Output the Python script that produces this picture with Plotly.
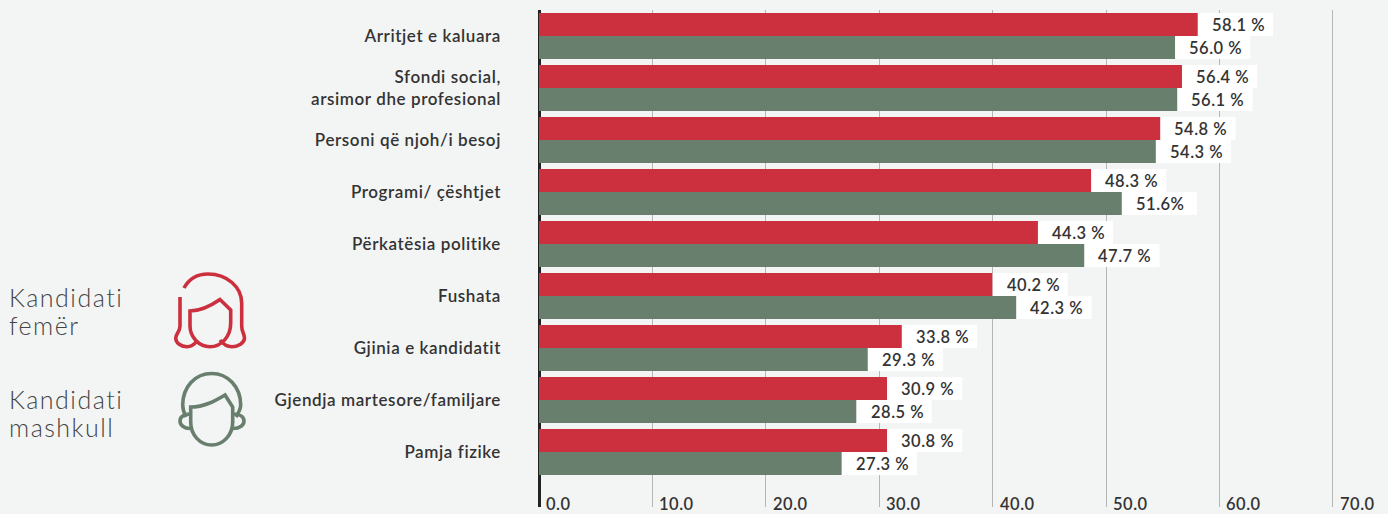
import plotly.graph_objects as go

categories = ["Arritjet e kaluara", "Sfondi social,<br>arsimor dhe profesional", "Personi që njoh/i besoj",
              "Programi/ çështjet", "Përkatësia politike", "Fushata", "Gjinia e kandidatit",
              "Gjendja martesore/familjare", "Pamja fizike"]
female_bars = [58.1, 56.7, 54.8, 48.7, 44.0, 40.0, 32.0, 30.7, 30.7]
male_bars = [56.1, 56.3, 54.4, 51.4, 48.1, 42.1, 29.0, 28.0, 26.7]
female_labels = ["58.1 %", "56.4 %", "54.8 %", "48.3 %", "44.3 %", "40.2 %", "33.8 %", "30.9 %", "30.8 %"]
male_labels = ["56.0 %", "56.1 %", "54.3 %", "51.6%", "47.7 %", "42.3 %", "29.3 %", "28.5 %", "27.3 %"]
tick_values = [0, 10, 20, 30, 40, 50, 60, 70]
tick_labels = ["0.0", "10.0", "20.0", "30.0", "40.0", "50.0", "60.0", "70.0"]
LABEL_BOX = 6.62

RED, GREEN, BG, INK = "#CC303E", "#697F6E", "#F3F5F4", "#333333"
W, H = 1388, 514
BAR = 23 / 52

fig = go.Figure()
for vals, offset, color in [(female_bars, -BAR, RED), (male_bars, 0, GREEN)]:
    fig.add_bar(y=categories, x=vals, base=0, orientation="h", width=BAR, offset=offset,
                marker=dict(color=color, line_width=0), hoverinfo="skip")
    fig.add_bar(y=categories, x=[LABEL_BOX] * len(vals), base=vals, orientation="h", width=BAR, offset=offset,
                marker=dict(color="white", line_width=0), hoverinfo="skip")

annotations = []
for vals, labels, yshift in [(female_bars, female_labels, 10.5), (male_bars, male_labels, -12.5)]:
    for cat, v, t in zip(categories, vals, labels):
        annotations.append(dict(x=v, y=cat, xref="x", yref="y", text=t, showarrow=False, xanchor="left", align="left",
                                xshift=12, yshift=yshift, font=dict(family="Lato", size=16.5, color=INK, weight=600)))
for v, t in zip(tick_values, tick_labels):
    annotations.append(dict(x=v, y=504, xref="x", yref="y2", text=t, showarrow=False, xanchor="left", align="left",
                            xshift=5, font=dict(family="Lato", size=16.5, color=INK, weight=600)))
for txt, y in [("Kandidati", 296.5), ("femër", 325), ("Kandidati", 398.5), ("mashkull", 427)]:
    annotations.append(dict(x=7, y=y, xref="x2", yref="y2", text=txt, showarrow=False, xanchor="left", align="left",
                            font=dict(family="Lato", size=25, color="#444444", weight=300)))

icons = [
    (RED, "M184,288 C189,279 198,274 208,274 C227,274 241.7,287 241.7,303 L241.7,326 C241.7,332 244.5,334 244.5,338 C244.5,343 238,346.7 232,346.7 C227,346.7 223,344 220,340"),
    (RED, "M180,297 L180,326 C180,332 175.7,334 175.7,338 C175.7,343 181,346.7 187,346.7 C191,346.7 194,345 197,341"),
    (RED, "M190,311 C202,311 212,305 220,299.5 L230.7,310 L230.7,323 C230.7,337 221,346.7 210,346.7 C199,346.7 190,337 190,326 Z"),
    (GREEN, "M186,417 C183.5,412 182.7,409 182.7,405 C182.7,387 195,373.5 211.7,373.5 C228,373.5 240.7,387 240.7,405 C240.7,409 239,412 236,417"),
    (GREEN, "M190.7,407 C204,407 215,401 225,395 L232.7,407 L232.7,422 C232.7,435 223,445 211.7,445 C200,445 190.7,435 190.7,422 Z"),
    (GREEN, "M190,414 C184,414 180,417 180,421 C180,425 184,428.5 190,428.5"),
    (GREEN, "M233,414 C240,414 244,417 244,421 C244,425 240,428.5 233,428.5"),
]
shapes = [dict(type="path", path=p, xref="x2", yref="y2", line=dict(color=c, width=3.6), layer="above")
          for c, p in icons]

# invisible full-figure axes for legend text and icons
fig.add_scatter(x=[0], y=[0], xaxis="x2", yaxis="y2", mode="markers", marker_opacity=0, hoverinfo="skip")

fig.update_layout(
    width=W, height=H, margin=dict(l=0, r=0, t=0, b=0), paper_bgcolor=BG, plot_bgcolor="rgba(0,0,0,0)",
    showlegend=False, barmode="overlay", annotations=annotations, shapes=shapes,
    xaxis=dict(domain=[539 / W, 1], range=[0, 849 / 11.34], tickvals=tick_values, showticklabels=False,
               showgrid=True, gridcolor="#B4B5B4", gridwidth=1.3, zeroline=True, zerolinecolor="#222222",
               zerolinewidth=2.5, anchor="y"),
    yaxis=dict(domain=[(H - 507) / H, (H - 10) / H], range=[9.06, -0.5], type="category", showgrid=False,
               zeroline=False, showline=False, ticks="", ticklabelstandoff=37, anchor="x",
               tickfont=dict(family="Lato", size=17, color=INK, weight=600)),
    xaxis2=dict(domain=[0, 1], range=[0, W], visible=False, anchor="y2"),
    yaxis2=dict(domain=[0, 1], range=[H, 0], visible=False, anchor="x2"),
)
post = """
document.documentElement.style.background = '#F3F5F4';
document.body.style.margin = '0';
document.querySelectorAll('.ytick text').forEach(t => t.style.letterSpacing = '0.6px');
document.querySelectorAll('.annotation-text').forEach(t => {
  t.style.letterSpacing = parseFloat(t.style.fontSize) > 20 ? '1.5px' : '0.5px';
});
"""
fig.write_html("out.html", post_script=post, config={"displayModeBar": False})
